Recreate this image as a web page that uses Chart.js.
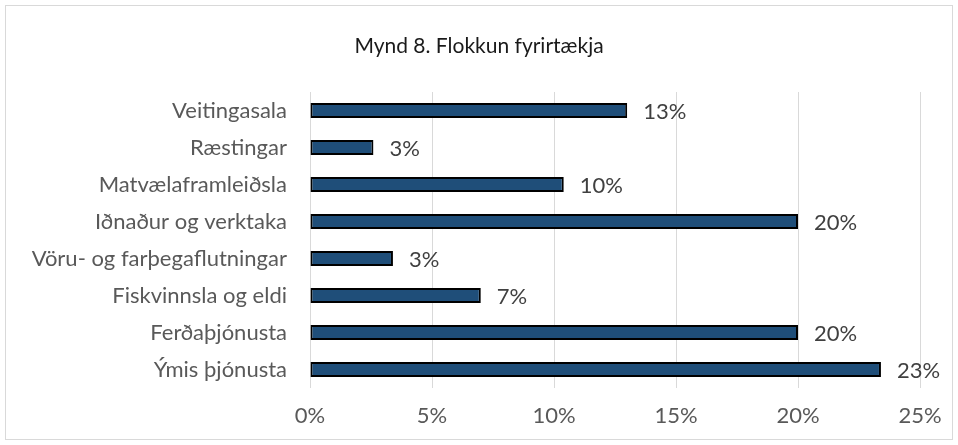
<!DOCTYPE html>
<html>
<head>
<meta charset="utf-8">
<script src="https://cdn.jsdelivr.net/npm/chart.js"></script>
<style>
html, body { margin: 0; padding: 0; background: #fff; }
#wrap { width: 958px; height: 445px; position: relative; }
</style>
</head>
<body>
<div id="wrap"><canvas id="FlokkunChart"></canvas></div>
<script>
// values (share of companies, %)
const categories = ['Veitingasala','Ræstingar','Matvælaframleiðsla','Iðnaður og verktaka','Vöru- og farþegaflutningar','Fiskvinnsla og eldi','Ferðaþjónusta','Ýmis þjónusta'];
const shares = [13.0, 2.6, 10.4, 20.0, 3.4, 7.0, 20.0, 23.4];
const xTicks = [0, 5, 10, 15, 20, 25];
const chartTitle = 'Mynd 8. Flokkun fyrirtækja';

const fontFamily = 'Lato, "Open Sans", sans-serif';

// value labels at the end of each bar
const barLabels = {
	id: 'barLabels',
	afterDatasetsDraw(chart) {
		const ctx = chart.ctx;
		const meta = chart.getDatasetMeta(0);
		ctx.save();
		ctx.font = '22px ' + fontFamily;
		ctx.fillStyle = '#404040';
		ctx.textAlign = 'left';
		ctx.textBaseline = 'middle';
		meta.data.forEach(function(bar, i) {
			ctx.fillText(Math.round(shares[i]) + '%', bar.x + 16, bar.y + 1);
		});
		ctx.restore();
	}
};

// title centred on the whole canvas + light outer frame
const frameAndTitle = {
	id: 'frameAndTitle',
	afterDraw(chart) {
		const ctx = chart.ctx;
		ctx.save();
		ctx.strokeStyle = '#d9d9d9';
		ctx.lineWidth = 1;
		ctx.strokeRect(5.5, 5.5, 947, 434);
		ctx.font = '21px ' + fontFamily;
		ctx.fillStyle = '#1a1a1a';
		ctx.textAlign = 'center';
		ctx.textBaseline = 'middle';
		ctx.fillText(chartTitle, chart.width / 2, 46);
		ctx.restore();
	}
};

new Chart(document.getElementById('FlokkunChart'), {
	type: 'bar',
	data: {
		labels: categories,
		datasets: [{
			label: 'Hlutfall',
			data: shares,
			backgroundColor: '#1F4E79',
			borderColor: '#000000',
			borderWidth: 2,
			borderSkipped: false,
			categoryPercentage: 1,
			barPercentage: 0.4
		}]
	},
	plugins: [barLabels, frameAndTitle],
	options: {
		indexAxis: 'y',
		responsive: true,
		maintainAspectRatio: false,
		animation: false,
		layout: {
			padding: { left: 0, right: 38, top: 92, bottom: 0 }
		},
		plugins: {
			legend: { display: false },
			tooltip: { enabled: false },
			title: { display: false }
		},
		scales: {
			x: {
				min: 0,
				max: 25,
				afterBuildTicks: function(scale) {
					scale.ticks = xTicks.map(function(v) { return { value: v }; });
				},
				afterFit: function(scale) { scale.height = 57; },
				ticks: {
					padding: 15,
					color: '#595959',
					font: { family: fontFamily, size: 22, lineHeight: 1.2 },
					callback: function(v) { return v + '%'; }
				},
				grid: { color: '#d9d9d9', lineWidth: 1, drawTicks: false },
				border: { display: false }
			},
			y: {
				afterFit: function(scale) { scale.width = 310; },
				ticks: {
					padding: 23,
					color: '#595959',
					font: { family: fontFamily, size: 22, lineHeight: 1.2 }
				},
				grid: { display: false, drawTicks: false },
				border: { display: false }
			}
		}
	}
});
</script>
</body>
</html>
